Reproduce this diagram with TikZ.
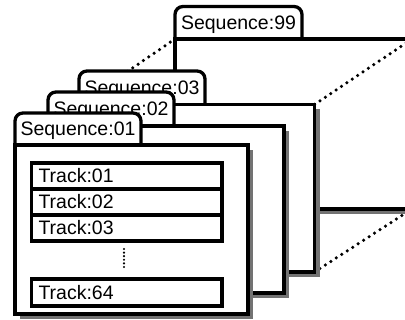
\documentclass[tikz,border=0pt]{standalone}
\usepackage{fontspec}
\setmainfont{Liberation Sans}
\tikzset{
  folderline/.style={line width=3.3pt, line join=miter, draw=black},
  shadowfill/.style={fill=black!55},
  tabshape/.style={folderline, fill=white, rounded corners=8pt},
  labeltext/.style={font=\fontsize{19.5}{22}\selectfont, inner sep=0pt, anchor=base},
  trackbox/.style={draw, line width=3.8pt, minimum width=190.5pt, minimum height=26pt,
    inner xsep=7pt, inner ysep=0pt, text width=176.5pt, align=left,
    text height=13.6pt, text depth=0pt, font=\fontsize{19.5}{22}\selectfont},
  dotline/.style={line width=3.5pt, line cap=round, dash pattern=on 0pt off 6.5pt},
  smalldots/.style={line width=2.4pt, line cap=round, dash pattern=on 0pt off 3.6pt},
}
% #1 name, #2 x0, #3 tab top, #4 tab right, #5 tab bottom, #6 body right, #7 body bottom, #8 label
\newcommand\drawfolder[8]{%
  \fill[shadowfill] ({#2+5},{#5+5}) rectangle ({#6+5},{#7+5});
  \draw[tabshape] (#2,#5) -- (#2,#3) -- (#4,#3) -- (#4,#5);
  \draw[folderline, fill=white] (#2,#5) rectangle (#6,#7);
  \node[labeltext] (#1) at ({(#2+#4)/2},{(#3+#5)/2+6.5}) {#8};
}
\begin{document}
\begin{tikzpicture}[x=1pt, y=-1pt]
  \clip (0,0) rectangle (405,320);
  % corner coordinates used by the dotted perspective lines
  \coordinate (s03tl) at (79,104.5);
  \coordinate (s03tr) at (314.5,104.5);
  \coordinate (s03br) at (314.5,272);
  \coordinate (s99tl) at (175,39);
  \coordinate (s99tr) at (412,39);
  \coordinate (s99br) at (412,209);

  \drawfolder{seq99}{175}{6.5}{302}{39}{412}{209}{Sequence:99}
  \draw[dotline] (s03tl) -- (s99tl);
  \draw[dotline] (s03tr) -- (s99tr);
  \draw[dotline] (s03br) -- (s99br);
  \drawfolder{seq03}{79}{71}{205}{104.5}{314.5}{272}{Sequence:03}
  \drawfolder{seq02}{48}{92}{174}{126}{284}{293}{Sequence:02}
  \drawfolder{seq01}{15}{113}{141}{145}{248}{314}{Sequence:01}

  \node[trackbox] (t01) at (126.75,176) {Track:01};
  \node[trackbox] (t02) at (126.75,202) {Track:02};
  \node[trackbox] (t03) at (126.75,228) {Track:03};
  \node[trackbox, minimum height=27pt] (t64) at (126.75,292.5) {Track:64};
  \coordinate (dtop) at (124,249);
  \coordinate (dbot) at (124,270);
  \draw[smalldots] (dtop) -- (dbot);
\end{tikzpicture}
\end{document}
